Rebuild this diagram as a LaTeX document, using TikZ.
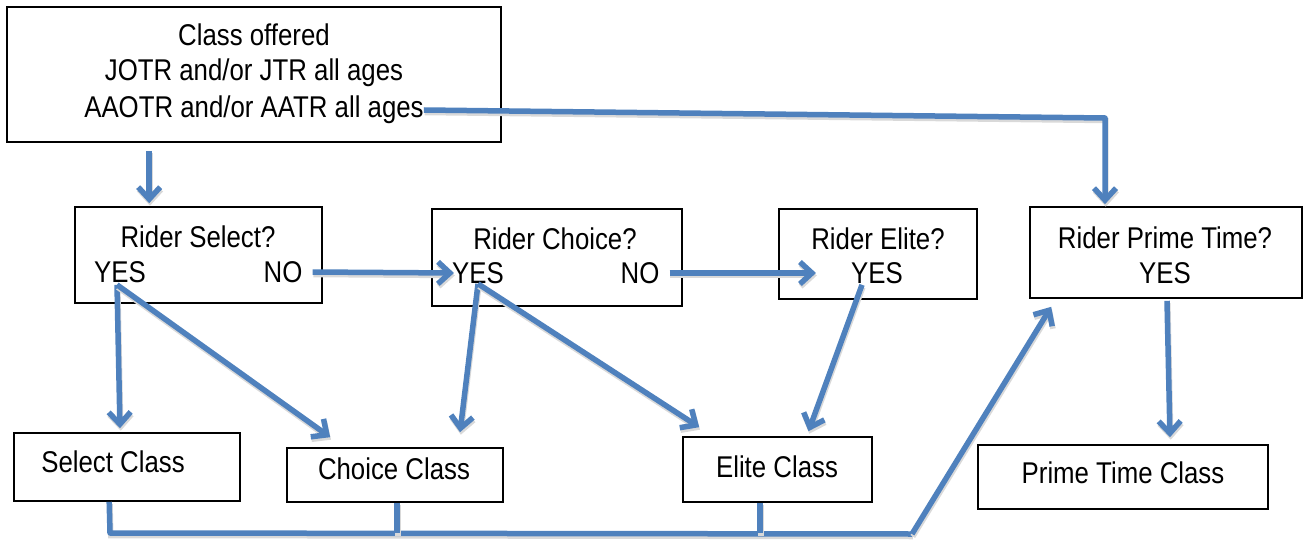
\documentclass[tikz,border=0pt]{standalone}
\usepackage{fontspec}
\setmainfont{Liberation Sans}[FakeStretch=0.86]
\usetikzlibrary{arrows.meta,calc}
\definecolor{flowblue}{HTML}{4F81BD}
\begin{document}
\begin{tikzpicture}[x=1pt,y=-1pt,
  box/.style={draw=black, line width=1.6pt, rectangle, inner sep=0pt},
  txt/.style={font=\fontsize{30}{37.5}\selectfont, inner sep=0pt, anchor=center},
  shadowed/.style={preaction={draw=black!15, line width=5.5pt, transform canvas={shift={(0.8pt,-2.5pt)}}}},
  conn/.style={draw=flowblue, line width=5.5pt, line join=round, shadowed, -{Straight Barb[length=12pt,width=22pt,line width=5.5pt]}},
  link/.style={draw=flowblue, line width=5.5pt, line join=round, shadowed}]
\useasboundingbox (0,0) rectangle (1311,540);
% boxes
\node[box, minimum width=494pt, minimum height=135pt] (topbox) at (254,74.5) {};
\node[box, minimum width=247pt, minimum height=96pt] (rsel) at (198.5,255) {};
\node[box, minimum width=250pt, minimum height=97pt] (rcho) at (557,257.5) {};
\node[box, minimum width=198pt, minimum height=90pt] (reli) at (878,254) {};
\node[box, minimum width=272pt, minimum height=91pt] (rpri) at (1166,252.5) {};
\node[box, minimum width=226pt, minimum height=68pt] (scl) at (127,467) {};
\node[box, minimum width=216pt, minimum height=54pt] (ccl) at (395,475) {};
\node[box, minimum width=189pt, minimum height=65pt] (ecl) at (777.5,469.5) {};
\node[box, minimum width=290pt, minimum height=64pt] (pcl) at (1123,477) {};
% texts
\node[txt] (t1) at (254,35) {Class offered};
\node[txt] (t2) at (254,73) {JOTR and/or JTR all ages};
\node[txt] (t3) at (254,110) {AAOTR and/or AATR all ages};
\node[txt] (qsel) at (198,237) {Rider Select?};
\node[txt] (yes1) at (120,272) {YES};
\node[txt] (no1) at (283,272) {NO};
\node[txt] (qcho) at (555,239) {Rider Choice?};
\node[txt] (yes2) at (478,273) {YES};
\node[txt] (no2) at (640,273) {NO};
\node[txt] (qeli) at (878,239) {Rider Elite?};
\node[txt] (yes3) at (877,273) {YES};
\node[txt] (qpri) at (1165,238) {Rider Prime Time?};
\node[txt] (yes4) at (1165,273) {YES};
\node[txt] (tscl) at (113,462) {Select Class};
\node[txt] (tccl) at (394,469) {Choice Class};
\node[txt] (tecl) at (777,467) {Elite Class};
\node[txt] (tpcl) at (1123,473) {Prime Time Class};
% junction coordinates
\coordinate (c2) at (1105,118);
\coordinate (b1) at (110,533);
\coordinate (b2) at (397,533);
\coordinate (b3) at (760,533);
\coordinate (b4) at (912,534);
% connectors
\draw[conn] ($(topbox.south west)+(143,8)$) -- ($(rsel.north west)+(75,-3)$);
\draw[conn] (t3.east) -- (c2) -- ($(c2 |- rpri.north)+(0,-2)$);
\draw[conn] ([xshift=10pt]no1.east) -- ([xshift=2pt]yes2.west);
\draw[conn] ([xshift=10pt]no2.east) -- ([xshift=-35pt]yes3.west);
\draw[conn] ($(yes1.south)+(-3,2)$) -- ($(scl.north)+(-7,-4)$);
\draw[conn] ($(yes1.south)+(-3,2)$) -- ($(ccl.north west)+(44,-10)$);
\draw[conn] ($(yes2.south)+(0,0)$) -- ($(ccl.north)+(65,-15)$);
\draw[conn] ($(yes2.south)+(0,0)$) -- ($(ecl.north west)+(17,-9)$);
\draw[conn] ($(yes3.south)+(-15,1)$) -- ($(ecl.north)+(31,-5)$);
\draw[conn] ($(rpri.south)+(1,2)$) -- ($(pcl.north)+(47,-7)$);
\draw[link] ($(scl.south west)+(96,0)$) -- (b1) -- (b4);
\draw[link] ($(ccl.south)+(2,0)$) -- (b2);
\draw[link] ($(ecl.south)+(-17.5,0)$) -- (b3);
\draw[conn] (b4) -- ($(rpri.south west)+(22,8)$);
\end{tikzpicture}
\end{document}
